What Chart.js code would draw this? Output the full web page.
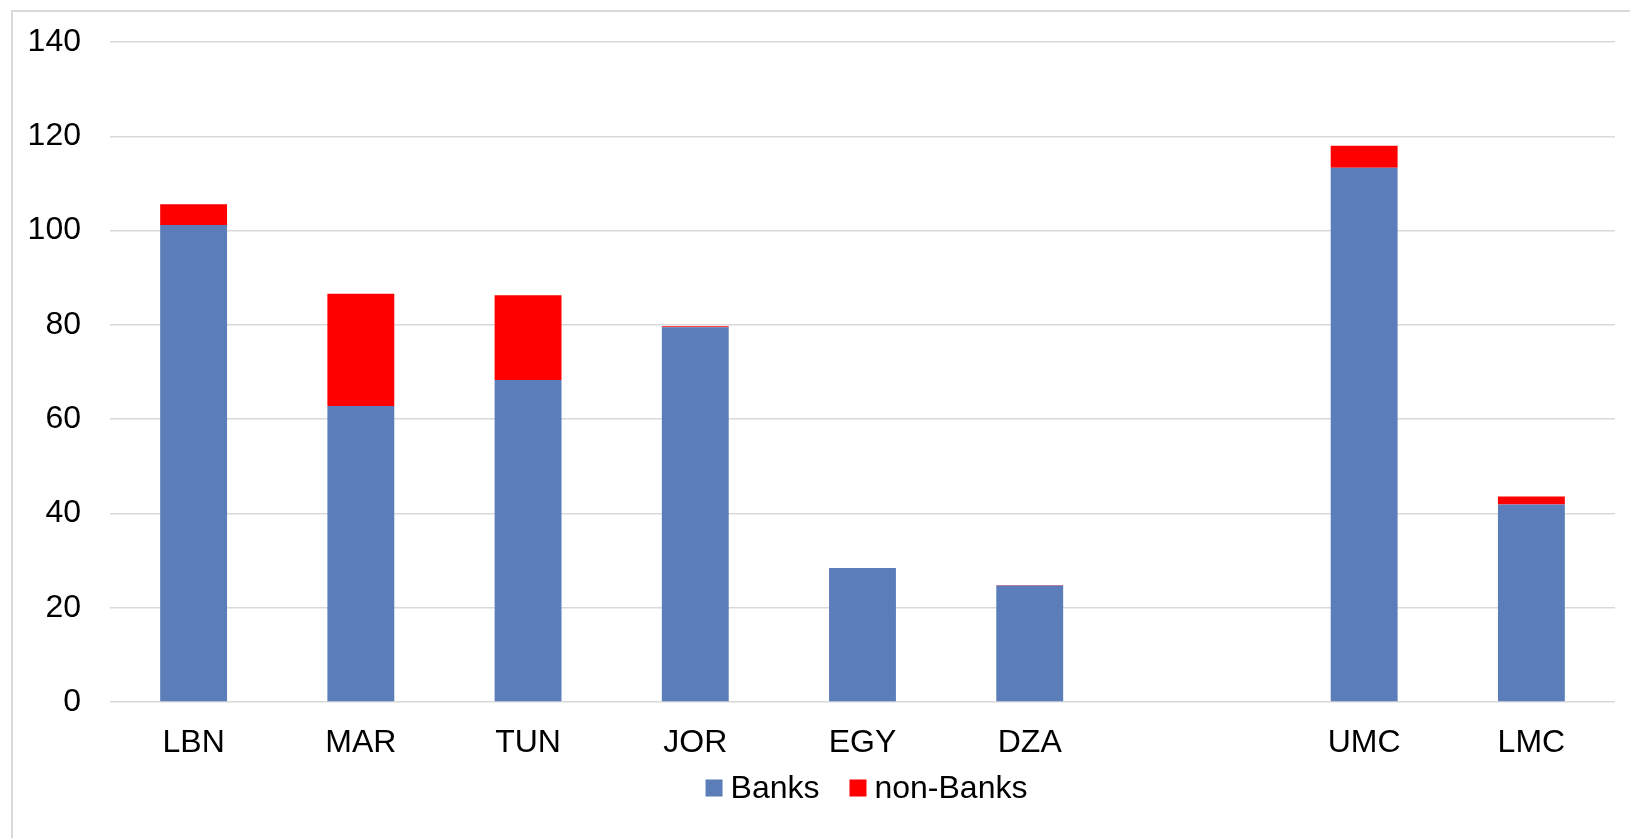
<!DOCTYPE html>
<html>
<head>
<meta charset="utf-8">
<script src="https://cdn.jsdelivr.net/npm/chart.js@4/dist/chart.umd.min.js"></script>
<style>
  html, body { margin: 0; padding: 0; background: #fff; overflow: hidden; }
  #frame { position: absolute; left: 11px; top: 10px; width: 1700px; height: 900px;
           border-left: 2px solid #d9d9d9; border-top: 2px solid #d9d9d9; }
  #wrap { position: absolute; left: 0; top: 0; width: 1630px; height: 838px; }
</style>
</head>
<body>
<div id="frame"></div>
<div id="wrap"><canvas id="chartCanvas"></canvas></div>
<script>
// --- data ---
const countries = ["LBN", "MAR", "TUN", "JOR", "EGY", "DZA", "", "UMC", "LMC"];
const banks = [101.2, 62.8, 68.3, 79.5, 28.4, 24.7, null, 113.3, 41.9];
const nonBanks = [4.4, 23.8, 18.0, 0.2, 0, 0.1, null, 4.7, 1.7];
const yTicks = [0, 20, 40, 60, 80, 100, 120, 140];

const font = { family: "'Liberation Sans', Arial, sans-serif", size: 32 };
Chart.defaults.font.family = font.family;
Chart.defaults.color = "#000";

// Excel-style legend: small square, text close to it, centered under the plot
const excelLegend = {
  id: "excelLegend",
  afterDraw(chart) {
    const { ctx, chartArea } = chart;
    const box = 17, gap = 8, between = 30;
    ctx.save();
    ctx.font = `${font.size}px ${font.family}`;
    ctx.textBaseline = "middle";
    const items = chart.data.datasets.map(ds => ({
      text: ds.label, color: ds.backgroundColor, w: ctx.measureText(ds.label).width
    }));
    const total = items.reduce((s, it) => s + box + gap + it.w, 0) + between * (items.length - 1);
    let x = (chartArea.left + chartArea.right) / 2 - total / 2 + 4;
    const y = 788;
    items.forEach(it => {
      ctx.fillStyle = it.color;
      ctx.fillRect(x, y - box / 2, box, box);
      ctx.fillStyle = "#000";
      ctx.fillText(it.text, x + box + gap, y + 1);
      x += box + gap + it.w + between;
    });
    ctx.restore();
  }
};

const canvas = document.getElementById("chartCanvas");

new Chart(canvas, {
  type: "bar",
  data: {
    labels: countries,
    datasets: [
      { label: "Banks", data: banks, backgroundColor: "#5b7eba" },
      { label: "non-Banks", data: nonBanks, backgroundColor: "#ff0000" }
    ]
  },
  options: {
    responsive: true,
    maintainAspectRatio: false,
    animation: false,
    categoryPercentage: 1,
    barPercentage: 0.4,
    layout: { padding: { left: 0, right: 15, top: 42, bottom: 78 } },
    plugins: {
      tooltip: { enabled: false },
      legend: { display: false }
    },
    scales: {
      x: {
        stacked: true,
        grid: { display: false },
        border: { display: false },
        ticks: { font, padding: 14, color: "#000", maxRotation: 0 },
        afterFit: s => { s.height = 58; }
      },
      y: {
        stacked: true,
        min: 0,
        max: 140,
        afterBuildTicks: s => { s.ticks = yTicks.map(v => ({ value: v })); },
        grid: { color: "#d9d9d9", lineWidth: 1.5, drawTicks: false },
        border: { display: false },
        ticks: { font, padding: 29, color: "#000" },
        afterFit: s => { s.width = 110; s.paddingTop = 0; s.paddingBottom = 0; }
      }
    }
  },
  plugins: [excelLegend]
});
</script>
</body>
</html>
